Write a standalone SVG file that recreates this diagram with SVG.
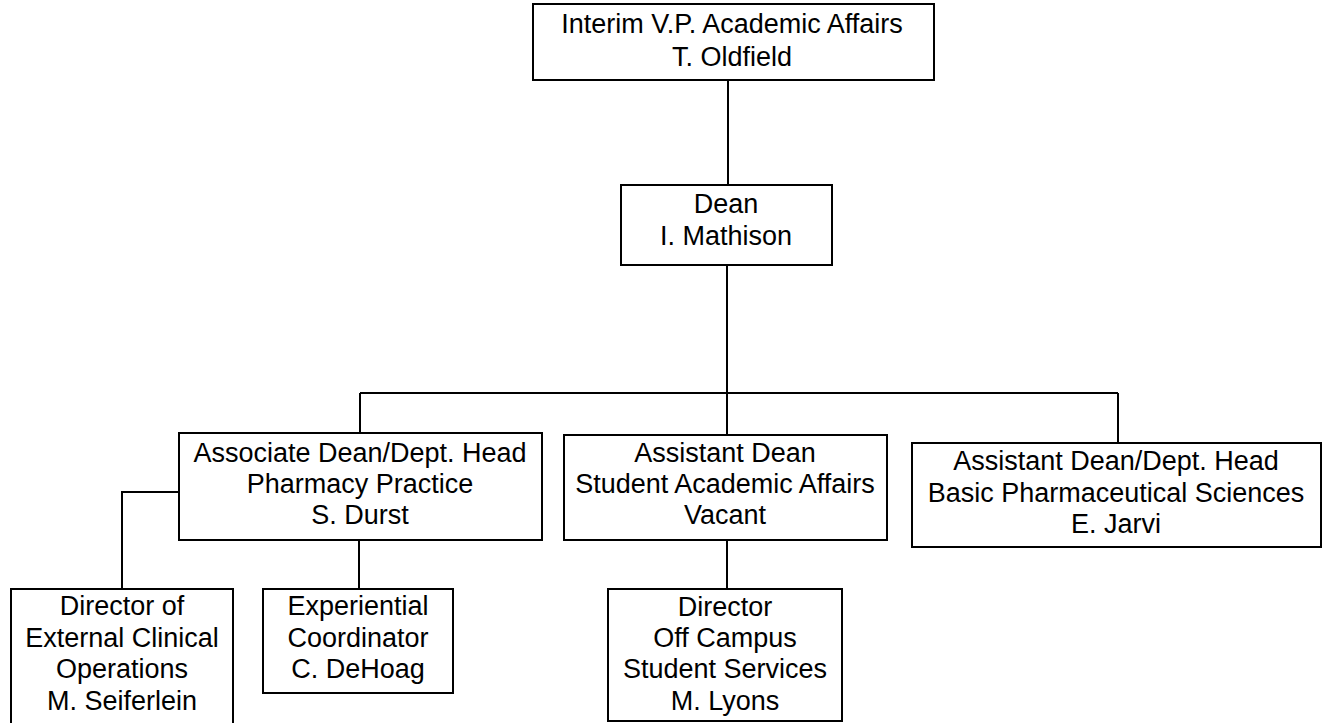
<svg xmlns="http://www.w3.org/2000/svg" width="1327" height="723" viewBox="0 0 1327 723">
<style>
.box{fill:#fff;stroke:#000;stroke-width:2}
.t{font-family:"Liberation Sans",Arial,sans-serif;font-size:27px;fill:#000;text-anchor:middle}
.c{fill:none;stroke:#000;stroke-width:2}
</style>
<rect width="1327" height="723" fill="#fff"/>
<g id="connectors">
<path class="c" d="M728,80V185"/>
<path class="c" d="M727,265V393"/>
<path class="c" d="M360,393H1118"/>
<path class="c" d="M360,393V433"/>
<path class="c" d="M727,393V435"/>
<path class="c" d="M1118,393V443"/>
<path class="c" d="M179,492H122V589"/>
<path class="c" d="M359,540V589"/>
<path class="c" d="M727,540V589"/>
</g>
<g id="vp">
<rect class="box" x="533" y="4" width="401" height="76"/>
<text class="t" x="732" y="33">Interim V.P. Academic Affairs</text>
<text class="t" x="732" y="66">T. Oldfield</text>
</g>
<g id="dean">
<rect class="box" x="621" y="185" width="211" height="80"/>
<text class="t" x="726" y="213">Dean</text>
<text class="t" x="726" y="245">I. Mathison</text>
</g>
<g id="assoc">
<rect class="box" x="179" y="433" width="363" height="107"/>
<text class="t" x="360" y="462">Associate Dean/Dept. Head</text>
<text class="t" x="360" y="493">Pharmacy Practice</text>
<text class="t" x="360" y="524">S. Durst</text>
</g>
<g id="asst">
<rect class="box" x="564" y="435" width="323" height="105"/>
<text class="t" x="725" y="462">Assistant Dean</text>
<text class="t" x="725" y="493">Student Academic Affairs</text>
<text class="t" x="725" y="524">Vacant</text>
</g>
<g id="basic">
<rect class="box" x="912" y="443" width="409" height="104"/>
<text class="t" x="1116" y="470">Assistant Dean/Dept. Head</text>
<text class="t" x="1116" y="502">Basic Pharmaceutical Sciences</text>
<text class="t" x="1116" y="533">E. Jarvi</text>
</g>
<g id="external">
<rect class="box" x="11" y="589" width="222" height="145"/>
<text class="t" x="122" y="615">Director of</text>
<text class="t" x="122" y="647">External Clinical</text>
<text class="t" x="122" y="678">Operations</text>
<text class="t" x="122" y="710">M. Seiferlein</text>
</g>
<g id="experiential">
<rect class="box" x="263" y="589" width="190" height="104"/>
<text class="t" x="358" y="615">Experiential</text>
<text class="t" x="358" y="647">Coordinator</text>
<text class="t" x="358" y="678">C. DeHoag</text>
</g>
<g id="offcampus">
<rect class="box" x="608" y="589" width="234" height="132"/>
<text class="t" x="725" y="616">Director</text>
<text class="t" x="725" y="647">Off Campus</text>
<text class="t" x="725" y="678">Student Services</text>
<text class="t" x="725" y="710">M. Lyons</text>
</g>
</svg>
